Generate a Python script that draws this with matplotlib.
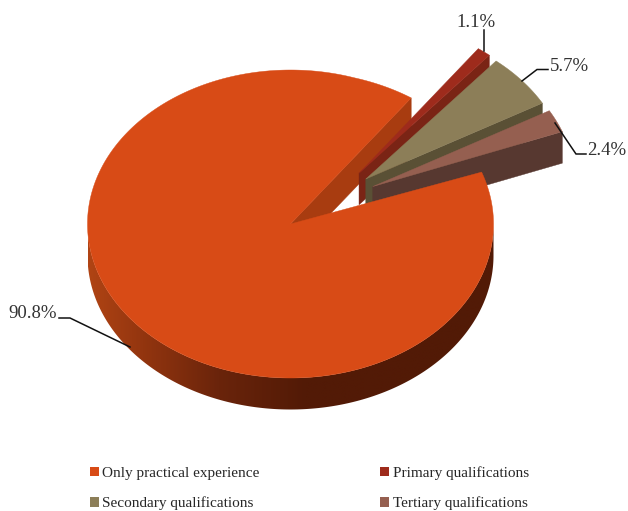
import numpy as np
import matplotlib
matplotlib.use("Agg")
import matplotlib.pyplot as plt
from matplotlib.patches import Polygon, Patch
from matplotlib.colors import LinearSegmentedColormap

categories = ["Only practical experience", "Primary qualifications",
              "Secondary qualifications", "Tertiary qualifications"]
values = [90.8, 1.1, 5.7, 2.4]
value_labels = ["90.8%", "1.1%", "5.7%", "2.4%"]

top_colors = ["#D84B16", "#9E2B1C", "#8C7E58", "#955F50"]
wall_colors = ["#A83C10", "#7A2415", "#5A5035", "#573830"]

# pie geometry in pixel space
W, H = 628, 511
CX, CY, RX, RY, DEPTH = 290.5, 224.0, 203.0, 154.0, 31.5
START = 20.9          # main slice's clockwise start, degrees
LOWER_TRIM = 1.2      # perspective foreshortening at the lower cut edge of the main slice
EXPLODE = 0.47

plt.rcParams["font.family"] = ["Liberation Serif", "DejaVu Serif"]
fig = plt.figure(figsize=(W / 100, H / 100), dpi=100)
ax = fig.add_axes([0, 0, 1, 1])
ax.axis("off")


def pt(a, cx=CX, cy=CY, r=1.0):
    a = np.radians(a)
    return np.column_stack([cx + r * RX * np.cos(a), cy - r * RY * np.sin(a)]) if np.ndim(a) \
        else np.array([cx + r * RX * np.cos(a), cy - r * RY * np.sin(a)])


def poly(points, color, z):
    p = Polygon(points, closed=True, fc=color, ec=color, lw=0.3, zorder=z)
    ax.add_patch(p)
    return p


# slice angle spans, going clockwise
spans = [v / sum(values) * 360 for v in values]
upper = (START - spans[0]) % 360     # upper cut edge of the gap

# main slice: cut face behind, side wall, top face
p1 = pt(upper, r=1.012)
poly([[CX, CY], p1, p1 + [0, DEPTH], [CX, CY + DEPTH]], wall_colors[0], 1)

arc = np.linspace(180, 360, 240)
wall_top = pt(arc)
wall_bot = wall_top + [0, DEPTH]
clip = Polygon(np.vstack([wall_top, wall_bot[::-1]]), closed=True, transform=ax.transData,
               fc="none", ec="none")
ax.add_patch(clip)
cmap = LinearSegmentedColormap.from_list(
    "wall", [(0, "#B04414"), (0.25, "#93350F"), (0.6, "#6A240B"), (1, "#521A06")])
grad = np.clip((np.linspace(CX - RX, CX + RX, 400) - (CX - RX)) / (RX + 15), 0, 1)[None, :]
im = ax.imshow(grad, extent=[CX - RX, CX + RX, CY + RY + DEPTH + 2, CY - 2], cmap=cmap,
               vmin=0, vmax=1, aspect="auto", zorder=5, interpolation="bilinear")
im.set_clip_path(clip)

# exploded slices, back to front
a_hi = upper
for i in (1, 2, 3):
    a_lo = a_hi - spans[i]
    mid = 0.5 * (a_hi + a_lo)
    direction = np.radians(0.5 * mid + 18.5)
    ax_, ay_ = CX + 0.5 + EXPLODE * RX * np.cos(direction), CY - EXPLODE * RY * np.sin(direction)
    apex = np.array([ax_, ay_])
    a = np.linspace(a_lo, a_hi, 30)
    outer = pt(a, ax_, ay_)
    low = outer[0]
    poly([apex, low, low + [0, DEPTH], apex + [0, DEPTH]], wall_colors[i], 2 + i)
    poly(np.vstack([apex, outer]), top_colors[i], 2 + i)
    a_hi = a_lo

a = np.linspace(upper, upper + spans[0] - LOWER_TRIM, 720)
rim = pt(a)
rim[:40] = pt(a[:40], r=1.0) + (p1 - pt(upper)) * np.linspace(1, 0, 40)[:, None]
poly(np.vstack([[CX, CY], rim]), top_colors[0], 6)

# value labels and leader lines
leader_xy = {0: [(130, 347), (70, 318), (59, 318)],
             1: [(484, 51), (484, 30)],
             2: [(522, 81), (537, 69.5), (548, 69.5)],
             3: [(555, 123), (576, 154), (586, 154)]}
label_xy = {0: (33, 314, "center"), 1: (476, 22.5, "center"),
            2: (569.5, 66.5, "center"), 3: (607, 150.5, "center")}
for i, lab in enumerate(value_labels):
    xs, ys = zip(*leader_xy[i])
    ax.plot(xs, ys, color="#111111", lw=1.1, zorder=7, solid_joinstyle="miter")
    x, y, ha = label_xy[i]
    ax.text(x, y, lab, ha=ha, va="center", fontsize=13.5, color="#333333", zorder=8)

ax.set_xlim(0, W)
ax.set_ylim(H, 0)

handles = [Patch(fc=c, ec="none", label=n) for c, n in zip(top_colors, categories)]
leg = ax.legend(handles=[handles[0], handles[2], handles[1], handles[3]], ncols=2,
                loc="upper left", bbox_to_anchor=(90 / W, 1 - 466 / H),
                frameon=False, fontsize=11, labelcolor="#262626",
                handlelength=0.6, handleheight=0.6, handletextpad=0.2,
                labelspacing=1.1, columnspacing=7.9, borderpad=0, borderaxespad=0)

fig.savefig("out.png", dpi=100)
